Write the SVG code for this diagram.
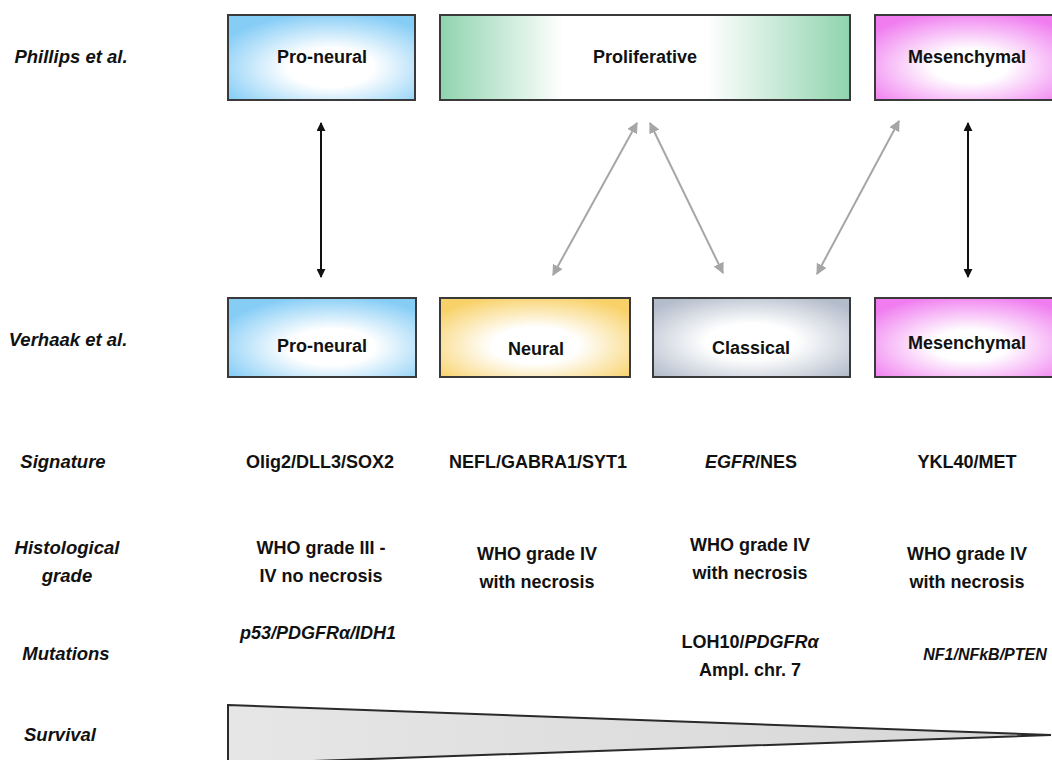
<svg xmlns="http://www.w3.org/2000/svg" width="1052" height="760" viewBox="0 0 1052 760">
<style>
.box{stroke:#3a3a3a;stroke-width:2}
.t{font-family:"Liberation Sans",Arial,sans-serif;font-weight:bold;font-size:18px;fill:#111;text-anchor:middle}
.r{font-family:"Liberation Sans",Arial,sans-serif;font-weight:bold;font-style:italic;font-size:18px;fill:#111;text-anchor:middle}
.lab{font-size:18.5px}
.i{font-style:italic}
.blk{stroke:#111;stroke-width:2;fill:none}
.gry{stroke:#a6a6a6;stroke-width:2;fill:none}
</style>
<defs>
<radialGradient id="gBlue" cx="55%" cy="62%" r="65%">
<stop offset="0" stop-color="#ffffff"/><stop offset="0.35" stop-color="#ffffff"/><stop offset="1" stop-color="#86cdf6"/>
</radialGradient>
<linearGradient id="gGreen" x1="0" y1="0" x2="1" y2="0">
<stop offset="0" stop-color="#8fd4ae"/><stop offset="0.3" stop-color="#ffffff"/><stop offset="0.65" stop-color="#ffffff"/><stop offset="1" stop-color="#8fd4ae"/>
</linearGradient>
<radialGradient id="gPink" cx="50%" cy="60%" r="65%">
<stop offset="0" stop-color="#ffffff"/><stop offset="0.3" stop-color="#ffffff"/><stop offset="1" stop-color="#f07cf0"/>
</radialGradient>
<radialGradient id="gYellow" cx="50%" cy="60%" r="65%">
<stop offset="0" stop-color="#ffffff"/><stop offset="0.35" stop-color="#ffffff"/><stop offset="1" stop-color="#f8d168"/>
</radialGradient>
<radialGradient id="gGray" cx="50%" cy="55%" r="65%">
<stop offset="0" stop-color="#ffffff"/><stop offset="0.35" stop-color="#ffffff"/><stop offset="1" stop-color="#b3bccb"/>
</radialGradient>
<linearGradient id="gSurv" x1="0" y1="0" x2="1" y2="0">
<stop offset="0" stop-color="#e6e6e6"/><stop offset="1" stop-color="#d6d6d6"/>
</linearGradient>
<marker id="mB" viewBox="0 0 10 10" refX="9" refY="5" markerWidth="4.5" markerHeight="4.5" orient="auto-start-reverse" markerUnits="strokeWidth">
<path d="M0,0 L10,5 L0,10 z" fill="#111"/>
</marker>
<marker id="mG" viewBox="0 0 10 10" refX="9" refY="5" markerWidth="5.5" markerHeight="5.5" orient="auto-start-reverse" markerUnits="strokeWidth">
<path d="M0,0 L10,5 L0,10 z" fill="#a6a6a6"/>
</marker>
</defs>
<rect width="1052" height="760" fill="#ffffff"/>

<g id="row-labels">
<text class="r lab" x="71" y="63">Phillips et al.</text>
<text class="r lab" x="68" y="346">Verhaak et al.</text>
<text class="r lab" x="63" y="468">Signature</text>
<text class="r lab" x="67" y="554">Histological</text>
<text class="r lab" x="67" y="582">grade</text>
<text class="r lab" x="66" y="660">Mutations</text>
<text class="r lab" x="60" y="741">Survival</text>
</g>

<g id="connectors">
<line class="blk" x1="321" y1="123" x2="321" y2="277" marker-start="url(#mB)" marker-end="url(#mB)"/>
<line class="blk" x1="968" y1="123" x2="968" y2="277" marker-start="url(#mB)" marker-end="url(#mB)"/>
<line class="gry" x1="553" y1="275" x2="637" y2="123" marker-start="url(#mG)" marker-end="url(#mG)"/>
<line class="gry" x1="650" y1="123" x2="723" y2="273" marker-start="url(#mG)" marker-end="url(#mG)"/>
<line class="gry" x1="817" y1="274" x2="899" y2="121" marker-start="url(#mG)" marker-end="url(#mG)"/>
</g>

<g id="phillips-proneural">
<rect class="box" x="228" y="15" width="187" height="85" fill="url(#gBlue)"/>
<text class="t" x="322" y="63">Pro-neural</text>
</g>
<g id="phillips-proliferative">
<rect class="box" x="440" y="15" width="410" height="85" fill="url(#gGreen)"/>
<text class="t" x="645" y="63">Proliferative</text>
</g>
<g id="phillips-mesenchymal">
<rect class="box" x="875" y="15" width="190" height="85" fill="url(#gPink)"/>
<text class="t" x="967" y="63">Mesenchymal</text>
</g>

<g id="verhaak-proneural">
<rect class="box" x="228" y="298" width="188" height="79" fill="url(#gBlue)"/>
<text class="t" x="322" y="352">Pro-neural</text>
</g>
<g id="verhaak-neural">
<rect class="box" x="440" y="298" width="190" height="79" fill="url(#gYellow)"/>
<text class="t" x="536" y="355">Neural</text>
</g>
<g id="verhaak-classical">
<rect class="box" x="653" y="298" width="197" height="79" fill="url(#gGray)"/>
<text class="t" x="751" y="354">Classical</text>
</g>
<g id="verhaak-mesenchymal">
<rect class="box" x="875" y="298" width="190" height="79" fill="url(#gPink)"/>
<text class="t" x="967" y="349">Mesenchymal</text>
</g>

<g id="signature">
<text class="t" x="320" y="468">Olig2/DLL3/SOX2</text>
<text class="t" x="538" y="468">NEFL/GABRA1/SYT1</text>
<text class="t" x="751" y="468"><tspan class="i">EGFR</tspan>/NES</text>
<text class="t" x="967" y="468">YKL40/MET</text>
</g>

<g id="histological">
<text class="t" x="321" y="554">WHO grade III -</text>
<text class="t" x="321" y="582">IV no necrosis</text>
<text class="t" x="537" y="560">WHO grade IV</text>
<text class="t" x="537" y="588">with necrosis</text>
<text class="t" x="750" y="551">WHO grade IV</text>
<text class="t" x="750" y="579">with necrosis</text>
<text class="t" x="967" y="560">WHO grade IV</text>
<text class="t" x="967" y="588">with necrosis</text>
</g>

<g id="mutations">
<text class="r" x="318" y="639">p53/PDGFRα/IDH1</text>
<text class="t" x="750" y="648">LOH10/<tspan class="i">PDGFRα</tspan></text>
<text class="t" x="750" y="676">Ampl. chr. 7</text>
<text class="r" x="985" y="660" style="font-size:16px">NF1/NFkB/PTEN</text>
</g>

<g id="survival">
<polygon points="228,705 1051,735 228,764" fill="url(#gSurv)" stroke="#2a2a2a" stroke-width="2" stroke-linejoin="miter"/>
</g>
</svg>
